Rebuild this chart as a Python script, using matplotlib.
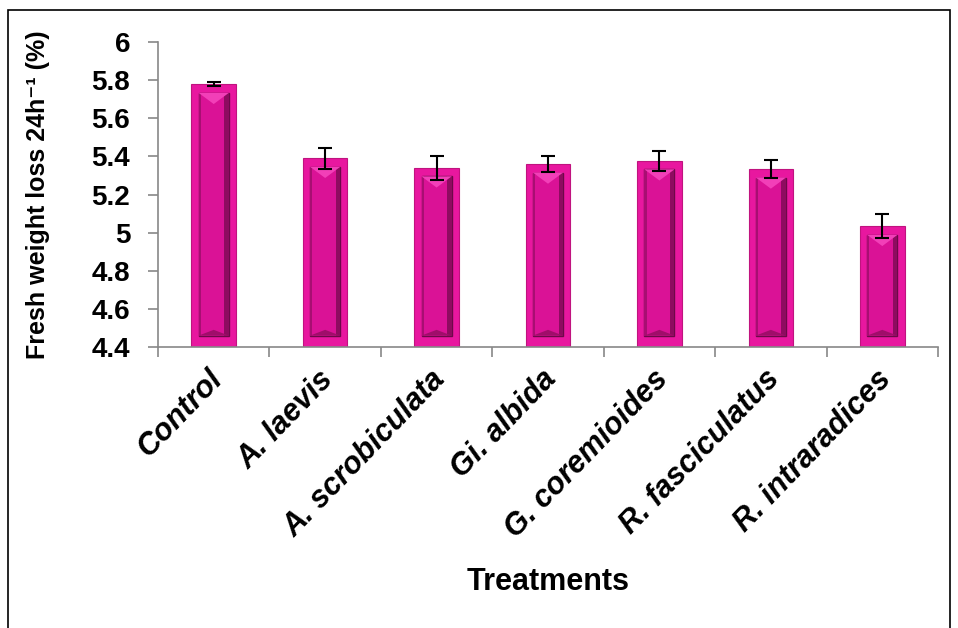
import numpy as np
import matplotlib
matplotlib.use("Agg")
import matplotlib.pyplot as plt
import matplotlib.transforms as mtransforms
from matplotlib.patches import Rectangle, Polygon

plt.rcParams['font.family'] = ['Liberation Sans', 'DejaVu Sans']

treatments = ['Control', 'A. laevis', 'A. scrobiculata', 'Gi. albida',
              'G. coremioides', 'R. fasciculatus', 'R. intraradices']
weight_loss = [5.778, 5.39, 5.34, 5.36, 5.377, 5.334, 5.033]
errors = [0.01, 0.056, 0.062, 0.042, 0.052, 0.048, 0.063]
y_ticks = [4.4, 4.6, 4.8, 5.0, 5.2, 5.4, 5.6, 5.8, 6.0]
y_tick_labels = ['4.4', '4.6', '4.8', '5', '5.2', '5.4', '5.6', '5.8', '6']

fig = plt.figure(figsize=(9.58, 6.28), dpi=100)
ax = fig.add_axes([158 / 958, 1 - 347 / 628, 780 / 958, 305 / 628])

x = np.arange(len(treatments))
bar_w = 0.40
base = 4.4
ax.bar(x, np.array(weight_loss) - base, bottom=base, width=bar_w,
       color='#E8179F', edgecolor='#C0137F', linewidth=0.8, zorder=2)

# bevel look: darker inner panel with triangular highlights
dx = 0.065
dy_top = 0.045
dy_bot = 0.06
for xi, v in zip(x, weight_loss):
    x0 = xi - bar_w / 2 + dx
    x1 = xi + bar_w / 2 - dx
    ax.add_patch(Rectangle((x0, base + dy_bot), x1 - x0, v - base - dy_top - dy_bot,
                           facecolor='#DA1296', edgecolor='#6E0849',
                           linewidth=1.0, zorder=3))
    ax.add_patch(Rectangle((x1 - 0.04, base + dy_bot), 0.04, v - base - dy_top - dy_bot,
                           facecolor='#8E0B60', edgecolor='none', zorder=3))
    ax.add_patch(Rectangle((x0, base + dy_bot), 0.02, v - base - dy_top - dy_bot,
                           facecolor='#A80E72', edgecolor='none', zorder=3))
    ax.add_patch(Polygon([(x0, v - dy_top), (x1, v - dy_top), (xi, v - 2.3 * dy_top)],
                         closed=True, facecolor='#F23FB8', edgecolor='none',
                         zorder=4))
    ax.add_patch(Polygon([(x0, base + dy_bot), (x1, base + dy_bot), (xi, base + 1.5 * dy_bot)],
                         closed=True, facecolor='#A00D6A', edgecolor='none',
                         zorder=4))

ax.errorbar(x, weight_loss, yerr=errors, fmt='none', ecolor='black',
            elinewidth=1.5, capsize=5, capthick=1.5, zorder=5)

ax.set_xlim(-0.5, len(treatments) - 0.5)
ax.set_ylim(4.4, 6.0)
ax.set_yticks(y_ticks)
ax.set_yticklabels(y_tick_labels, fontsize=20, fontweight='bold')
ax.set_xticks(x)
ax.set_xticklabels(treatments, fontsize=22, fontweight='bold', style='italic',
                   rotation=46, ha='right', va='center', rotation_mode='anchor')
ax.tick_params(axis='x', length=0, pad=20)
shift = mtransforms.ScaledTranslation(0.04, 0, fig.dpi_scale_trans)
for lab in ax.get_xticklabels():
    lab.set_transform(lab.get_transform() + shift)
ax.set_xticks(np.arange(len(treatments) + 1) - 0.5, minor=True)
ax.tick_params(axis='x', which='minor', length=7, color='#888888', width=1.2)
ax.tick_params(axis='y', length=7, color='#888888', width=1.2, pad=13)

for s in ['top', 'right']:
    ax.spines[s].set_visible(False)
for s in ['left', 'bottom']:
    ax.spines[s].set_color('#888888')
    ax.spines[s].set_linewidth(1.2)

fig.text(38 / 958, 1 - 195 / 628, 'Fresh weight loss 24h\u207b\u00b9 (%)',
         fontsize=18, fontweight='bold', rotation=90, ha='center', va='center')
fig.text(548 / 958, 1 - 582 / 628, 'Treatments', fontsize=22,
         fontweight='bold', ha='center', va='center')

# outer frame of the chart area
fig.add_artist(Rectangle((8 / 958, -0.05), 942 / 958, 1 - 10 / 628 + 0.05,
                         transform=fig.transFigure, fill=False,
                         edgecolor='black', linewidth=1.2))

fig.savefig('out.png', dpi=100)
